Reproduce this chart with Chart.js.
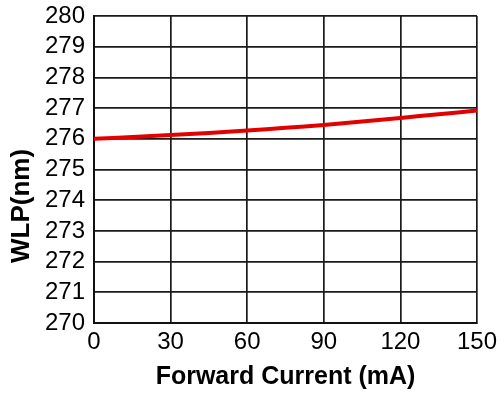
<!DOCTYPE html>
<html>
<head>
<meta charset="utf-8">
<script src="https://cdn.jsdelivr.net/npm/chart.js@4/dist/chart.umd.min.js"></script>
<style>
  html, body { margin: 0; padding: 0; background: #fff; }
  #wrap { width: 504px; height: 410px; }
</style>
</head>
<body>
<div id="wrap"><canvas id="wlpChart"></canvas></div>
<script>
// forward current (mA) and peak wavelength (nm)
let current = [0, 15, 30, 45, 60, 75, 90, 105, 120, 135, 150];
let wlp = [276.0, 276.06, 276.12, 276.19, 276.27, 276.36, 276.45, 276.56, 276.68, 276.8, 276.92];

let xTicks = [0, 30, 60, 90, 120, 150];
let yTicks = [270, 271, 272, 273, 274, 275, 276, 277, 278, 279, 280];

let points = current.map(function(c, i){
    return { x: c, y: wlp[i] };
});

// y title sits lower than the axis middle in the original
let yTitle = {
    id: 'yTitle',
    afterDraw: function(chart){
        let ctx = chart.ctx;
        ctx.save();
        ctx.translate(22, 206);
        ctx.rotate(-Math.PI / 2);
        ctx.font = 'bold 26px "Liberation Sans", Arial, sans-serif';
        ctx.fillStyle = '#000';
        ctx.textAlign = 'center';
        ctx.textBaseline = 'middle';
        ctx.fillText('WLP(nm)', 0, 0);
        ctx.restore();
    }
};

let tickFont = { family: '"Liberation Sans", Arial, sans-serif', size: 24 };

new Chart(document.getElementById('wlpChart'), {
    type: 'line',
    data: {
        datasets: [{
            data: points,
            borderColor: '#e30000',
            borderWidth: 4,
            pointRadius: 0,
            tension: 0.3,
            fill: false
        }]
    },
    options: {
        responsive: true,
        maintainAspectRatio: false,
        animation: false,
        layout: { padding: { left: 0, right: 27, top: 16, bottom: 0 } },
        plugins: { legend: { display: false }, tooltip: { enabled: false } },
        scales: {
            x: {
                type: 'linear',
                min: 0,
                max: 150,
                afterBuildTicks: function(scale){
                    scale.ticks = xTicks.map(function(v){ return { value: v }; });
                },
                afterFit: function(scale){ scale.height = 87; },
                grid: { color: '#1a1a1a', lineWidth: 1.7, drawTicks: false },
                border: { color: '#111', width: 2 },
                ticks: { color: '#000', font: tickFont, padding: 5, maxRotation: 0, autoSkip: false },
                title: {
                    display: true,
                    text: 'Forward Current (mA)',
                    color: '#000',
                    font: { family: '"Liberation Sans", Arial, sans-serif', size: 25, weight: 'bold' },
                    padding: { top: 0, bottom: 18 }
                }
            },
            y: {
                min: 270,
                max: 280,
                afterBuildTicks: function(scale){
                    scale.ticks = yTicks.map(function(v){ return { value: v }; });
                },
                afterFit: function(scale){
                    scale.width = 94;
                    scale.paddingTop = 0;
                    scale.paddingBottom = 0;
                },
                grid: { color: '#1a1a1a', lineWidth: 1.7, drawTicks: false },
                border: { color: '#111', width: 2 },
                ticks: { color: '#000', font: tickFont, padding: 9, autoSkip: false }
            }
        }
    },
    plugins: [yTitle]
});
</script>
</body>
</html>
